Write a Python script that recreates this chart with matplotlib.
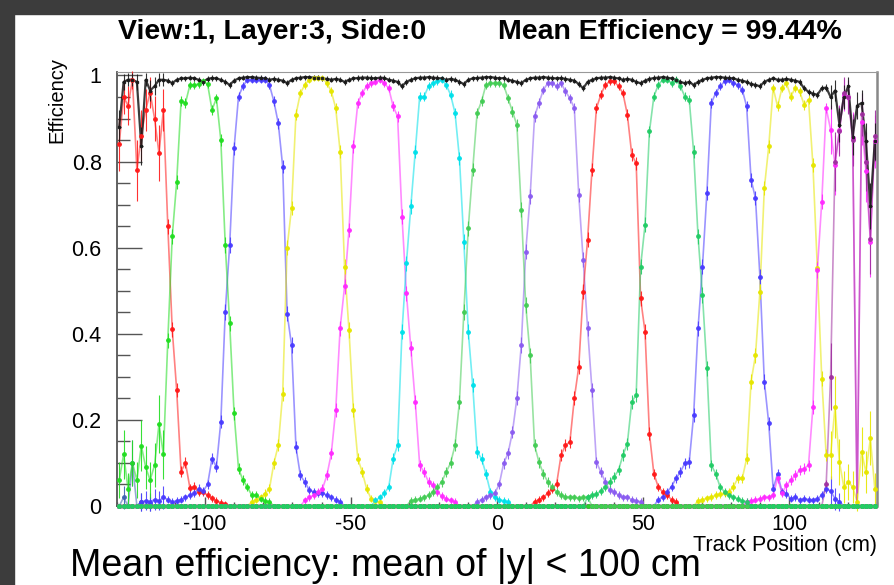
import numpy as np
import matplotlib
matplotlib.use('Agg')
from matplotlib import pyplot as plt
from matplotlib.patches import Rectangle
from matplotlib.ticker import MultipleLocator, FuncFormatter

plt.rcParams['font.family'] = ['Liberation Sans', 'DejaVu Sans']
plt.rcParams['axes.unicode_minus'] = False

# 172 bins of track position (cm)
N_BINS = 172
bin_edges = np.linspace(-130, 130, N_BINS + 1)
track_pos = 0.5 * (bin_edges[:-1] + bin_edges[1:])
half_bin = 0.5 * (bin_edges[1] - bin_edges[0])

# efficiency of the whole layer, one value per bin
layer_eff = [
    0.88, 0.985, 0.99, 0.99, 0.985, 0.835, 0.99, 0.965, 0.975, 0.99,
    0.99, 0.988, 0.982, 0.99, 0.993, 0.993, 0.995, 0.993, 0.99, 0.985,
    0.992, 0.994, 0.993, 0.99, 0.985, 0.978, 0.988, 0.993, 0.995, 0.996,
    0.996, 0.995, 0.994, 0.993, 0.99, 0.992, 0.99, 0.988, 0.982, 0.99,
    0.993, 0.995, 0.996, 0.996, 0.995, 0.995, 0.993, 0.992, 0.99, 0.992,
    0.99, 0.985, 0.99, 0.993, 0.994, 0.995, 0.995, 0.994, 0.993, 0.995,
    0.994, 0.99, 0.988, 0.985, 0.975, 0.985, 0.99, 0.993, 0.995, 0.995,
    0.996, 0.995, 0.994, 0.993, 0.99, 0.992, 0.99, 0.985, 0.98, 0.99,
    0.993, 0.994, 0.995, 0.996, 0.996, 0.995, 0.993, 0.994, 0.99, 0.988,
    0.985, 0.982, 0.99, 0.993, 0.995, 0.995, 0.996, 0.995, 0.994, 0.993,
    0.994, 0.992, 0.99, 0.988, 0.98, 0.97, 0.985, 0.99, 0.993, 0.995,
    0.995, 0.996, 0.995, 0.993, 0.99, 0.992, 0.99, 0.985, 0.982, 0.988,
    0.992, 0.994, 0.995, 0.996, 0.995, 0.993, 0.99, 0.985, 0.982, 0.985,
    0.978, 0.985, 0.99, 0.993, 0.995, 0.996, 0.996, 0.995, 0.994, 0.993,
    0.99, 0.988, 0.985, 0.98, 0.978, 0.975, 0.985, 0.99, 0.993, 0.99,
    0.99, 0.992, 0.99, 0.988, 0.985, 0.97, 0.962, 0.958, 0.955, 0.97,
    0.972, 0.95, 0.965, 0.885, 0.95, 0.975, 0.858, 0.93, 0.936, 0.847,
    0.696, 0.847,
]

# single strips: (first bin listed, efficiencies from that bin on); zero elsewhere
strip_red_1 = (0, [0.84, 0.95, 0.93, 0.99, 0.78, 0.86, 0.92, 0.96, 0.90, 0.82,
                   0.92, 0.65, 0.41, 0.27, 0.08, 0.10, 0.042, 0.045, 0.033, 0.032,
                   0.025, 0.018, 0.012, 0.008, 0.005])
strip_edge_blue = (0, [0.0, 0.02, 0.0, 0.10, 0.0, 0.01, 0.0, 0.005])
strip_green_1 = (0, [0.06, 0.12, 0.04, 0.10, 0.06, 0.14, 0.09, 0.06, 0.095, 0.19,
                     0.12, 0.385, 0.626, 0.752, 0.94, 0.936, 0.978, 0.978, 0.98, 0.986,
                     0.98, 0.92, 0.947, 0.85, 0.606, 0.424, 0.215, 0.087, 0.06, 0.044,
                     0.025, 0.025, 0.017, 0.012, 0.01])
strip_blue_1 = (5, [0.01, 0.012, 0.01, 0.015, 0.012, 0.02, 0.015,
                    0.01, 0.012, 0.015, 0.02, 0.025, 0.03, 0.04, 0.035, 0.05,
                    0.11, 0.091, 0.196, 0.451, 0.606, 0.831, 0.951, 0.975, 0.99, 0.99,
                    0.99, 0.99, 0.99, 0.978, 0.94, 0.889, 0.788, 0.447, 0.374, 0.137,
                    0.071, 0.056, 0.037, 0.033, 0.031, 0.03, 0.025, 0.02, 0.015, 0.01])
strip_yellow_1 = (30, [0.01, 0.015, 0.02, 0.029, 0.04, 0.099, 0.141, 0.261, 0.6, 0.692,
                       0.909, 0.959, 0.978, 0.99, 0.994, 0.994, 0.994, 0.982, 0.963, 0.924,
                       0.823, 0.556, 0.409, 0.223, 0.11, 0.079, 0.04, 0.017, 0.012, 0.01])
strip_magenta_1 = (42, [0.013, 0.02, 0.025, 0.033, 0.04, 0.071, 0.122, 0.223, 0.413, 0.51,
                        0.641, 0.835, 0.936, 0.959, 0.975, 0.982, 0.985, 0.99, 0.982, 0.97,
                        0.928, 0.905, 0.672, 0.494, 0.366, 0.242, 0.095, 0.079, 0.056, 0.048,
                        0.033, 0.023, 0.017, 0.013, 0.01])
strip_cyan = (58, [0.013, 0.02, 0.03, 0.044, 0.11, 0.141, 0.405, 0.564, 0.696, 0.823,
                   0.951, 0.951, 0.975, 0.982, 0.986, 0.99, 0.978, 0.955, 0.913, 0.808,
                   0.614, 0.405, 0.281, 0.126, 0.11, 0.075, 0.033, 0.021, 0.015, 0.012,
                   0.01])
strip_green_2 = (66, [0.012, 0.015, 0.017, 0.02, 0.025, 0.033, 0.044, 0.056, 0.079, 0.1,
                      0.141, 0.242, 0.451, 0.645, 0.781, 0.913, 0.94, 0.978, 0.982, 0.982,
                      0.982, 0.978, 0.947, 0.916, 0.885, 0.688, 0.467, 0.35, 0.141, 0.102,
                      0.075, 0.056, 0.044, 0.033, 0.025, 0.022, 0.02, 0.02, 0.018, 0.02,
                      0.02])
strip_violet = (81, [0.01, 0.015, 0.02, 0.025, 0.03, 0.05, 0.099, 0.122, 0.172, 0.25,
                     0.374, 0.591, 0.719, 0.905, 0.936, 0.967, 0.982, 0.982, 0.975, 0.982,
                     0.963, 0.947, 0.924, 0.723, 0.572, 0.413, 0.269, 0.102, 0.079, 0.056,
                     0.037, 0.033, 0.025, 0.02, 0.02, 0.015, 0.012, 0.01])
strip_red_2 = (94, [0.01, 0.015, 0.02, 0.03, 0.04, 0.052, 0.118, 0.141, 0.149, 0.25,
                    0.323, 0.498, 0.618, 0.781, 0.924, 0.955, 0.978, 0.986, 0.986, 0.975,
                    0.959, 0.909, 0.816, 0.796, 0.482, 0.405, 0.168, 0.075, 0.044, 0.033,
                    0.025, 0.015, 0.01])
strip_green_3 = (106, [0.02, 0.025, 0.028, 0.035, 0.045, 0.056, 0.068, 0.083, 0.118, 0.145,
                       0.242, 0.258, 0.556, 0.653, 0.87, 0.951, 0.978, 0.99, 0.99, 0.982,
                       0.99, 0.975, 0.951, 0.944, 0.823, 0.626, 0.49, 0.32, 0.095, 0.075,
                       0.044, 0.033, 0.025, 0.02, 0.017, 0.012, 0.01])
strip_blue_2 = (122, [0.015, 0.021, 0.033, 0.045, 0.064, 0.079, 0.099, 0.102, 0.211, 0.413,
                      0.556, 0.727, 0.936, 0.959, 0.975, 0.986, 0.99, 0.982, 0.978, 0.967,
                      0.928, 0.758, 0.715, 0.533, 0.289, 0.192, 0.04, 0.075, 0.033, 0.029,
                      0.017, 0.021, 0.013, 0.017, 0.015, 0.013, 0.017, 0.025, 0.04, 0.035,
                      0.017, 0.01])
strip_yellow_2 = (131, [0.012, 0.015, 0.018, 0.021, 0.025, 0.028, 0.03, 0.033, 0.045, 0.064,
                        0.064, 0.11, 0.289, 0.35, 0.498, 0.738, 0.835, 0.971, 0.928, 0.971,
                        0.982, 0.951, 0.971, 0.963, 0.932, 0.944, 0.792, 0.552, 0.296, 0.118,
                        0.118, 0.23, 0.102, 0.044, 0.056, 0.044, 0.01, 0.126, 0.079, 0.157,
                        0.04])
strip_magenta_2 = (142, [0.01, 0.012, 0.015, 0.017, 0.02, 0.02, 0.025, 0.064, 0.03, 0.048,
                         0.06, 0.071, 0.083, 0.087, 0.095, 0.23, 0.548, 0.707, 0.924, 0.874,
                         0.792, 0.874, 0.955, 0.951, 0.854, 0.0, 0.893, 0.777, 0.614, 0.847])
strip_purple = (160, [0.05, 0.30, 0.80, 0.87, 0.96, 0.95, 0.85, 0.0, 0.91, 0.80,
                      0.62, 0.86])

strips = [
    (strip_red_1, '#ff1a1a'),
    (strip_edge_blue, '#3f62b0'),
    (strip_blue_1, '#4a3cff'),
    (strip_yellow_1, '#e6e600'),
    (strip_magenta_1, '#ff2bff'),
    (strip_cyan, '#00e0ea'),
    (strip_violet, '#8a5cf0'),
    (strip_red_2, '#ff1a1a'),
    (strip_blue_2, '#4a3cff'),
    (strip_yellow_2, '#e6e600'),
    (strip_magenta_2, '#ff2bff'),
    (strip_purple, '#a030a0'),
    (strip_green_1, '#22dd22'),
    (strip_green_2, '#44cc55'),
    (strip_green_3, '#22cc66'),
]


def full_curve(first, values):
    y = np.zeros(N_BINS)
    y[first:first + len(values)] = values
    return y


def binom_err(eff, n_mid, n_edge):
    n = np.where((track_pos < -114) | (track_pos > 113), n_edge, n_mid)
    return np.sqrt(eff * (1 - eff) / n) + 0.005


def draw_eff(ax, eff, color, n_mid, n_edge, marker='o', ms=2.5, lw=1.2, alpha=0.55):
    ax.plot(track_pos, eff, '-', color=color, lw=lw, alpha=alpha, zorder=2)
    ax.errorbar(track_pos, eff, yerr=binom_err(eff, n_mid, n_edge),
                xerr=0.7 * half_bin, fmt=marker, ms=ms, color=color,
                mec=color, elinewidth=0.8, capsize=0, alpha=0.9, zorder=3,
                clip_on=False)


fig = plt.figure(figsize=(8.95, 5.85), dpi=100)
fig.patch.set_facecolor('white')
fig.patches.append(Rectangle((0, 0), 14 / 895, 1, transform=fig.transFigure,
                             color='#3c3c3c', zorder=0))
fig.patches.append(Rectangle((0, 1 - 14 / 585), 1, 14 / 585, transform=fig.transFigure,
                             color='#3c3c3c', zorder=0))

ax = fig.add_axes([117 / 895, 79 / 585, 760 / 895, 434 / 585])

for (first, values), color in strips:
    draw_eff(ax, full_curve(first, values), color, 1500, 40)
draw_eff(ax, np.array(layer_eff), '#1a1a1a', 6000, 90, marker='s', ms=1.8,
         lw=1.6, alpha=0.85)

ax.set_xlim(-130, 130)
ax.set_ylim(0, 1.008)
ax.xaxis.set_major_locator(MultipleLocator(50))
ax.xaxis.set_minor_locator(MultipleLocator(10))
ax.yaxis.set_major_locator(MultipleLocator(0.2))
ax.yaxis.set_minor_locator(MultipleLocator(0.05))
ax.yaxis.set_major_formatter(FuncFormatter(lambda v, p: '%g' % round(v, 2)))
ax.tick_params(axis='y', which='major', direction='in', length=18, width=1,
               color='#555555', labelsize=15.5, pad=11)
ax.tick_params(axis='y', which='minor', direction='in', length=9.5, width=1,
               color='#555555')
ax.tick_params(axis='x', which='major', direction='in', length=6.5, width=1,
               color='#555555', labelsize=15.5, pad=6)
ax.tick_params(axis='x', which='minor', direction='in', length=3.2, width=1,
               color='#555555')
for side in ['left', 'bottom']:
    ax.spines[side].set_color('#555555')
    ax.spines[side].set_linewidth(1.3)
ax.spines['top'].set_color('#999999')
ax.spines['right'].set_color('#888888')
ax.spines['right'].set_linewidth(1.8)

fig.text(118 / 895, 1 - 39 / 585, 'View:1, Layer:3, Side:0', fontsize=20.5,
         fontweight='bold', ha='left', va='baseline')
fig.text(498 / 895, 1 - 39 / 585, 'Mean Efficiency = 99.44%', fontsize=20.5,
         fontweight='bold', ha='left', va='baseline')
fig.text(57 / 895, 1 - 57 / 585, 'Efficiency', rotation=90, fontsize=14.5,
         ha='center', va='top')
fig.text(877 / 895, 1 - 545 / 585, 'Track Position (cm)', fontsize=15.5,
         ha='right', va='center')
fig.text(70 / 895, 1 - 576 / 585, 'Mean efficiency: mean of |y| < 100 cm',
         fontsize=27, ha='left', va='baseline')

fig.savefig('out.png', dpi=100)
